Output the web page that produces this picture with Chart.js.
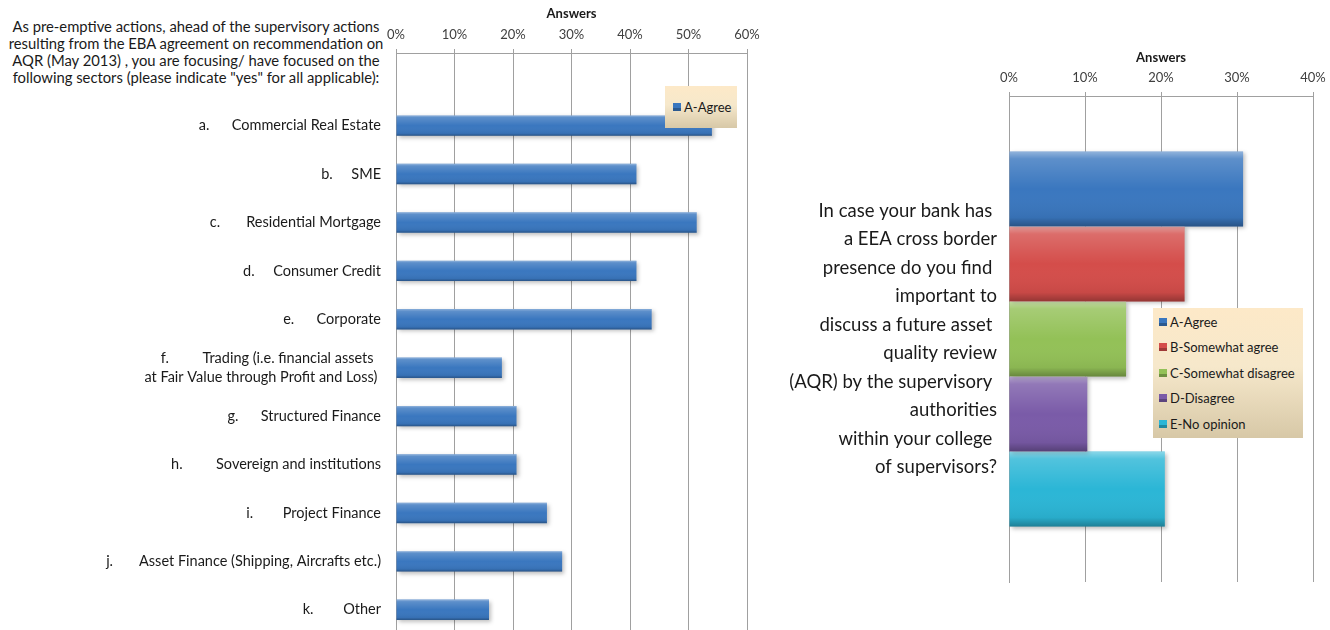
<!DOCTYPE html>
<html lang="en">
<head>
  <meta charset="UTF-8">
  <title>AQR survey answers</title>
  <script src="https://cdn.jsdelivr.net/npm/chart.js"></script>
  <style>
    body {
      margin: 0;
      width: 1330px;
      height: 630px;
      background: #ffffff;
      font-family: Lato, sans-serif;
      color: #1a1a1a;
      position: relative;
      overflow: hidden;
    }

    .box {
      position: absolute;
    }

    .question {
      left: 0;
      top: 18px;
      width: 392px;
      text-align: center;
      font-size: 14.8px;
      line-height: 17px;
    }

    .legend {
      position: absolute;
      background: linear-gradient(#fde9c8 0%, #f6e8cb 45%, #d7c8a7 100%);
      font-size: 13px;
      color: #1a1a1a;
    }

    .legend div {
      display: flex;
      align-items: center;
      white-space: nowrap;
    }

    .legend span {
      display: inline-block;
      width: 8px;
      height: 8px;
      margin-right: 3px;
      box-shadow: inset 0 -3px 0 rgba(0, 0, 0, 0.25);
    }
  </style>
</head>
<body>
  <div class="box question">
    As pre-emptive actions, ahead of the supervisory actions<br>
    resulting from the EBA agreement on recommendation on<br>
    AQR (May 2013) , you are focusing/ have focused on the<br>
    following sectors (please indicate "yes" for all applicable):
  </div>

  <!-- the left plot runs a few pixels past the bottom edge, as in the original -->
  <div class="box" style="left:0;top:0;">
    <canvas id="sectorsChart" width="770" height="634"></canvas>
  </div>
  <div class="box" style="left:770px;top:0;">
    <canvas id="reviewChart" width="560" height="630"></canvas>
  </div>

  <div class="legend" id="sectorsLegend" style="left:665px;top:86px;width:72px;height:42px;padding-left:8px;box-sizing:border-box;display:flex;align-items:center;"></div>
  <div class="legend" id="reviewLegend" style="left:1153px;top:308px;width:150px;height:130px;padding:1px 0 0 6px;box-sizing:border-box;"></div>

  <script>
    // left chart: sectors (share answering "A-Agree")
    const sectors = [
      'a.      Commercial Real Estate',
      'b.     SME',
      'c.       Residential Mortgage',
      'd.     Consumer Credit',
      'e.      Corporate',
      ['f.         Trading (i.e. financial assets  ', 'at Fair Value through Profit and Loss) '],
      'g.      Structured Finance',
      'h.         Sovereign and institutions',
      'i.        Project Finance',
      'j.       Asset Finance (Shipping, Aircrafts etc.)',
      'k.        Other'
    ];
    const sectorAgree = [54.0, 41.1, 51.4, 41.1, 43.7, 18.1, 20.6, 20.6, 25.8, 28.4, 15.9];
    const sectorTicks = [0, 10, 20, 30, 40, 50, 60];

    // right chart: single question, five answer options
    const questionLines = [
      'In case your bank has ',
      'a EEA cross border',
      'presence do you find ',
      'important to',
      'discuss a future asset ',
      'quality review',
      '(AQR) by the supervisory ',
      'authorities',
      'within your college ',
      'of supervisors?'
    ];
    const answerLabels = ['A-Agree', 'B-Somewhat agree', 'C-Somewhat disagree', 'D-Disagree', 'E-No opinion'];
    const answerShares = [30.8, 23.1, 15.4, 10.3, 20.5];
    const reviewTicks = [0, 10, 20, 30, 40];

    const answerColors = ['#3a77bf', '#d44d4a', '#93c157', '#7a5ba8', '#2bb6d6'];

    Chart.defaults.font.family = 'Lato, sans-serif';
    Chart.defaults.animation = false;

    // bevel look: shadow under the bars and a light/dark band over each one
    const bevelPlugin = {
      id: 'bevel',
      beforeDatasetsDraw(chart) {
        const ctx = chart.ctx;
        ctx.save();
        ctx.shadowColor = 'rgba(0, 0, 0, 0.25)';
        ctx.shadowBlur = 4;
        ctx.shadowOffsetX = 2;
        ctx.shadowOffsetY = 2;
      },
      afterDatasetsDraw(chart) {
        const ctx = chart.ctx;
        ctx.restore();
        chart.data.datasets.forEach((ds, i) => {
          chart.getDatasetMeta(i).data.forEach(bar => {
            const p = bar.getProps(['x', 'y', 'base', 'height'], true);
            if (p.x == null || isNaN(p.x)) return;
            const top = p.y - p.height / 2;
            const g = ctx.createLinearGradient(0, top, 0, top + p.height);
            g.addColorStop(0, 'rgba(255,255,255,0.45)');
            g.addColorStop(0.1, 'rgba(255,255,255,0.18)');
            g.addColorStop(0.5, 'rgba(255,255,255,0)');
            g.addColorStop(0.88, 'rgba(0,0,0,0.06)');
            g.addColorStop(1, 'rgba(0,0,0,0.3)');
            ctx.fillStyle = g;
            ctx.fillRect(Math.min(p.base, p.x), top, Math.abs(p.x - p.base), p.height);
          });
        });
      }
    };

    function percentAxis(max, ticks, height, titlePad, tickPad) {
      return {
        type: 'linear',
        position: 'top',
        min: 0,
        max: max,
        afterBuildTicks: scale => { scale.ticks = ticks.map(v => ({ value: v })); },
        afterFit: scale => {
          scale.height = height;
          scale.paddingLeft = 0;
          scale.paddingRight = 0;
        },
        title: {
          display: true,
          text: 'Answers',
          color: '#1a1a1a',
          font: { size: 13, weight: 'bold' },
          padding: { top: titlePad, bottom: 0 }
        },
        ticks: {
          color: '#404040',
          font: { size: 13 },
          padding: tickPad,
          callback: v => v + '%'
        },
        grid: { color: '#a0a0a0', lineWidth: 1, tickLength: 4 },
        border: { color: '#a0a0a0' }
      };
    }

    function categoryAxis(width, size, lineHeight, pad) {
      return {
        afterFit: scale => {
          scale.width = width;
          scale.paddingTop = 0;
          scale.paddingBottom = 0;
        },
        ticks: {
          autoSkip: false,
          color: '#1a1a1a',
          padding: pad,
          font: { size: size, lineHeight: lineHeight }
        },
        grid: { display: false },
        border: { color: '#a0a0a0' }
      };
    }

    new Chart(document.getElementById('sectorsChart'), {
      type: 'bar',
      data: {
        // the first slot is left empty, as in the original sheet
        labels: [''].concat(sectors),
        datasets: [{
          label: 'A-Agree',
          data: [null].concat(sectorAgree),
          backgroundColor: answerColors[0],
          categoryPercentage: 1,
          barPercentage: 0.42
        }]
      },
      options: {
        indexAxis: 'y',
        responsive: false,
        layout: { padding: { top: 0, right: 23, bottom: 0, left: 0 } },
        plugins: { legend: { display: false }, tooltip: { enabled: false } },
        scales: {
          x: percentAxis(60, sectorTicks, 53, 6, 6),
          y: categoryAxis(396, 14.5, 1.3, 7)
        }
      },
      plugins: [bevelPlugin]
    });

    new Chart(document.getElementById('reviewChart'), {
      type: 'bar',
      data: {
        labels: [questionLines],
        datasets: answerLabels.map((label, i) => ({
          label: label,
          data: [answerShares[i]],
          backgroundColor: answerColors[i],
          categoryPercentage: 0.772,
          barPercentage: 1
        }))
      },
      options: {
        indexAxis: 'y',
        responsive: false,
        layout: { padding: { top: 40, right: 17, bottom: 48, left: 0 } },
        plugins: { legend: { display: false }, tooltip: { enabled: false } },
        scales: {
          x: percentAxis(40, reviewTicks, 56, 10, 6),
          y: categoryAxis(239, 18.5, 1.54, 4)
        }
      },
      plugins: [bevelPlugin]
    });

    function buildLegend(id, labels, rowHeight) {
      const el = document.getElementById(id);
      labels.forEach((label, i) => {
        const row = document.createElement('div');
        if (rowHeight) row.style.height = rowHeight + 'px';
        const mark = document.createElement('span');
        mark.style.background = answerColors[i];
        row.appendChild(mark);
        row.appendChild(document.createTextNode(label));
        el.appendChild(row);
      });
    }

    buildLegend('sectorsLegend', ['A-Agree']);
    buildLegend('reviewLegend', answerLabels, 25.5);
  </script>
</body>
</html>
